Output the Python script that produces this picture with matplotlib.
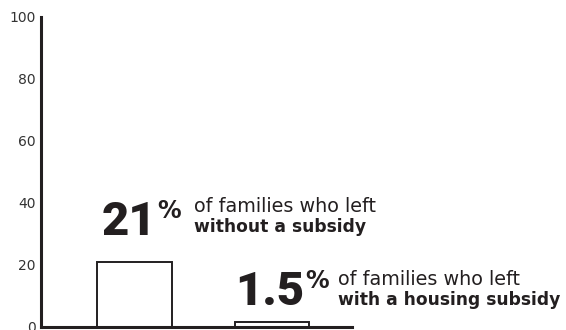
import matplotlib
matplotlib.use("Agg")
import matplotlib.pyplot as plt

# data
groups = ["without a subsidy", "with a housing subsidy"]
shares = [21, 1.5]
big_labels = ["21", "1.5"]
y_ticks = [0, 20, 40, 60, 80, 100]

ink = "#231f20"
plt.rcParams["font.family"] = ["DejaVu Sans"]

fig = plt.figure(figsize=(5.66, 3.30), dpi=100)
W, H = 566, 330
ax = fig.add_axes([41 / W, 3 / H, (352 - 41) / W, (327 - 17) / H])

xs = list(range(len(shares)))
ax.bar(xs, shares, width=0.545, color="white", edgecolor=ink, linewidth=1.4)

ax.set_xlim(-0.68, 1.582)
ax.set_ylim(0, 100)
ax.set_yticks(y_ticks)
ax.set_xticks([])
ax.tick_params(axis="y", length=0, pad=4, labelsize=10, labelcolor="#333333")
for s in ["top", "right"]:
    ax.spines[s].set_visible(False)
for s in ["left", "bottom"]:
    ax.spines[s].set_linewidth(2.2)
    ax.spines[s].set_color(ink)

# callouts (pixel positions from the reference)
def px(x, y):
    return x / W, 1 - y / H

# % right edge x, baseline y, small text x, line1 baseline, line2 baseline
callouts = [
    (181, 235, 194, 212, 232),
    (329, 305, 338, 285, 305),
]
for (rx, by, tx, ty1, ty2), big, grp in zip(callouts, big_labels, groups):
    pc = fig.text(*px(rx, by - 17), "%", fontsize=17, fontweight="bold",
                  color=ink, ha="right", va="baseline")
    fig.canvas.draw()
    bb = pc.get_window_extent()
    fig.text((bb.x0 - 1) / W, 1 - by / H, big, fontsize=34,
             fontweight="heavy", family="Roboto", color=ink,
             ha="right", va="baseline")
    fig.text(*px(tx, ty1), "of families who left", fontsize=13.8, color=ink,
             ha="left", va="baseline")
    fig.text(*px(tx, ty2), grp, fontsize=12.3, fontweight="bold", color=ink,
             ha="left", va="baseline")

fig.savefig("out.png", dpi=100)
